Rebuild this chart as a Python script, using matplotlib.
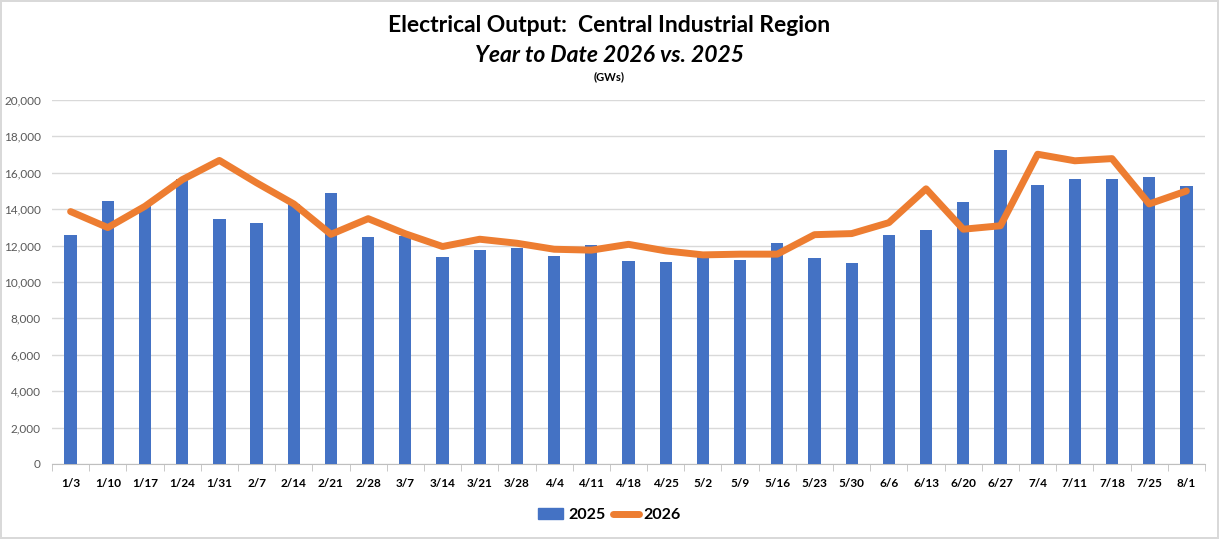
import numpy as np
import matplotlib.pyplot as plt
from matplotlib.lines import Line2D
from matplotlib.patches import Patch
from matplotlib.ticker import FuncFormatter

plt.rcParams['font.family'] = ['Lato', 'DejaVu Sans']

# Недели
weeks = ['1/3', '1/10', '1/17', '1/24', '1/31', '2/7', '2/14', '2/21', '2/28', '3/7',
         '3/14', '3/21', '3/28', '4/4', '4/11', '4/18', '4/25', '5/2', '5/9', '5/16',
         '5/23', '5/30', '6/6', '6/13', '6/20', '6/27', '7/4', '7/11', '7/18', '7/25', '8/1']

# 2025 - столбцы
out_2025 = [12570, 14430, 14170, 15650, 13440, 13220, 14300, 14900, 12460, 12530,
            11360, 11745, 11855, 11415, 12020, 11140, 11090, 11400, 11200, 12130,
            11310, 11030, 12570, 12840, 14380, 17230, 15310, 15640, 15640, 15750, 15260]

# 2026 - линия
out_2026 = [13870, 12990, 14160, 15620, 16680, 15450, 14290, 12620, 13480, 12650,
            11950, 12350, 12130, 11800, 11750, 12070, 11710, 11490, 11530, 11530,
            12600, 12660, 13260, 15120, 12900, 13090, 17020, 16660, 16780, 14290, 15000]

W, H = 1219, 539
fig = plt.figure(figsize=(W / 100, H / 100), dpi=100)
fig.patch.set_facecolor('white')
fig.patch.set_edgecolor('#D9D9D9')
fig.patch.set_linewidth(1.5)

ax = fig.add_axes([52 / W, (H - 464) / H, (1205 - 52) / W, 364 / H])
x = np.arange(len(weeks))

ax.bar(x, out_2025, width=0.33, color='#4472C4', zorder=2)
ax.plot(x, out_2026, color='#ED7D31', lw=5, solid_capstyle='round',
        solid_joinstyle='round', zorder=3)

ax.set_xlim(-0.5, len(weeks) - 0.5)
ax.set_ylim(0, 20000)
ax.set_yticks(np.arange(0, 20001, 2000))
ax.yaxis.set_major_formatter(FuncFormatter(lambda v, p: f'{int(v):,}'))
ax.grid(axis='y', color='#D9D9D9', lw=1, zorder=0)

for s in ['top', 'right', 'left']:
    ax.spines[s].set_visible(False)
ax.spines['bottom'].set_color('#BFBFBF')
ax.spines['bottom'].set_zorder(1)

ax.set_xticks(x)
ax.set_xticklabels(weeks, fontsize=8.5, fontweight='bold', color='black')
ax.set_xticks(np.arange(-0.5, len(weeks), 1), minor=True)
ax.tick_params(axis='x', which='major', length=0, pad=10)
ax.tick_params(axis='x', which='minor', length=5, color='#BFBFBF')
ax.tick_params(axis='y', length=0, labelsize=8.5, labelcolor='#595959', pad=8)

# Заголовки
fig.text(0.5, 1 - 26 / H, 'Electrical Output:  Central Industrial Region',
         ha='center', va='center', fontsize=16.5, fontweight='bold')
fig.text(0.5, 1 - 55 / H, 'Year to Date 2026 vs. 2025',
         ha='center', va='center', fontsize=16.5, fontweight='bold', style='italic')
fig.text(0.5, 1 - 77 / H, '(GWs)', ha='center', va='center', fontsize=8, fontweight='bold')

handles = [Patch(color='#4472C4'),
           Line2D([0], [0], color='#ED7D31', lw=5, solid_capstyle='round')]
fig.legend(handles, ['2025', '2026'], loc='center', bbox_to_anchor=(0.5, 1 - 515 / H),
           ncol=2, frameon=False, prop={'size': 11.5, 'weight': 'bold'},
           handlelength=1.6, columnspacing=0.5, handletextpad=0.3)

fig.savefig('out.png', dpi=100)
